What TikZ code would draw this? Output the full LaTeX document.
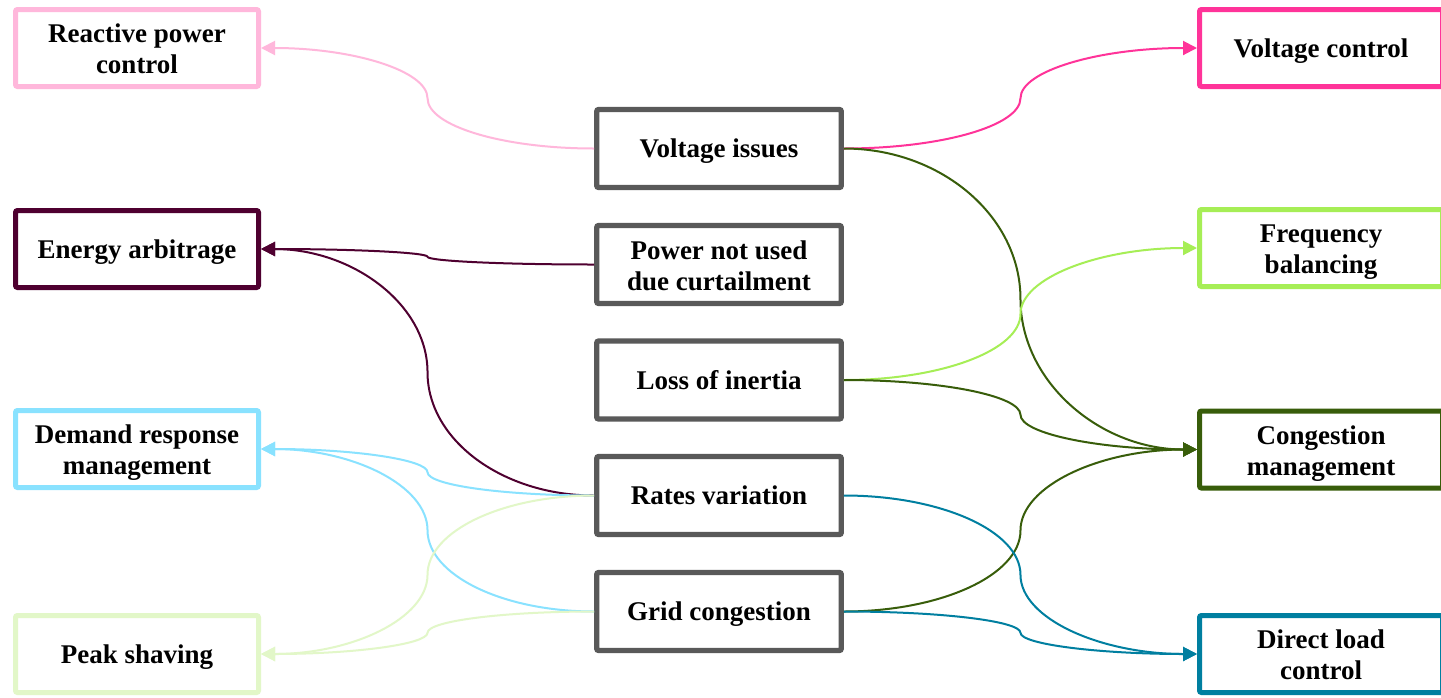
\documentclass[tikz,border=0pt]{standalone}
\usepackage{fontspec}
\setmainfont{Liberation Serif}
\usetikzlibrary{calc,arrows.meta}
\definecolor{cpinkl}{HTML}{FFB7DB}
\definecolor{cmaroon}{HTML}{4F0030}
\definecolor{cblue}{HTML}{89E2FF}
\definecolor{cgreenl}{HTML}{E2F7C8}
\definecolor{cpink}{HTML}{FF3399}
\definecolor{cgreen}{HTML}{A6EE56}
\definecolor{cdgreen}{HTML}{385D0A}
\definecolor{cteal}{HTML}{007FA0}
\definecolor{cgray}{HTML}{595959}
\tikzset{
  box/.style={draw, fill=white, line width=2.5pt, rounded corners=1pt,
    minimum width=121.5pt, minimum height=38.5pt, inner sep=0pt,
    text height=12pt, text depth=3pt,
    align=center, font=\bfseries\fontsize{13.5}{15.5}\selectfont},
  twoline/.style={text height=25.5pt, text depth=0pt},
  cbox/.style={box, draw=cgray, line width=2.65pt, minimum width=122.3pt, minimum height=39pt},
  conn/.style={line width=1pt, -{Triangle[length=7pt,width=7pt]}},
  sb/.style={to path={let \p1=(\tikztostart), \p2=(\tikztotarget), \p3=($(\p1)!0.5!(\p2)$) in
    .. controls ($(\p1)!0.55!(\x3,\y1)$) and ($(\p3)!0.55!(\x3,\y1)$) .. (\p3)
    .. controls ($(\p3)!0.55!(\x3,\y2)$) and ($(\p2)!0.55!(\x3,\y2)$) .. (\p2)}}
}
\begin{document}
\begin{tikzpicture}[x=0.5pt,y=-0.5pt]
\useasboundingbox[fill=white] (0,0) rectangle (1441,697);
% left boxes
\node[box, twoline, draw=cpinkl] (rpc) at (137,48) {Reactive power\\control};
\node[box, draw=cmaroon] (ea) at (137,249) {Energy arbitrage};
\node[box, twoline, draw=cblue] (dr) at (137,449) {Demand response\\management};
\node[box, draw=cgreenl] (ps) at (137,654) {Peak shaving};
% right boxes
\node[box, draw=cpink] (vc) at (1321,48) {Voltage control};
\node[box, twoline, draw=cgreen] (fb) at (1321,248) {Frequency\\balancing};
\node[box, twoline, draw=cdgreen] (cm) at (1321,449.5) {Congestion\\management};
\node[box, twoline, draw=cteal] (dlc) at (1321,654) {Direct load\\control};
% center boxes
\node[cbox] (vi) at (719,148.5) {Voltage issues};
\node[cbox, twoline] (pn) at (719,264.5) {Power not used\\due curtailment};
\node[cbox] (li) at (719,380) {Loss of inertia};
\node[cbox] (rv) at (719,495.5) {Rates variation};
\node[cbox] (gc) at (719,611.5) {Grid congestion};
% left connectors
\draw[conn, cpinkl] (vi.west) to[sb] (rpc.east);
\draw[conn, cmaroon] (pn.west) to[sb] (ea.east);
\draw[conn, cmaroon] (rv.west) to[sb] (ea.east);
\draw[conn, cblue] (rv.west) to[sb] (dr.east);
\draw[conn, cblue] (gc.west) to[sb] (dr.east);
\draw[conn, cgreenl] (rv.west) to[sb] (ps.east);
\draw[conn, cgreenl] (gc.west) to[sb] (ps.east);
% right connectors
\draw[conn, cpink] (vi.east) to[sb] (vc.west);
\draw[conn, cdgreen] (vi.east) to[sb] (cm.west);
\draw[conn, cgreen] (li.east) to[sb] (fb.west);
\draw[conn, cdgreen] (li.east) to[sb] (cm.west);
\draw[conn, cdgreen] (gc.east) to[sb] (cm.west);
\draw[conn, cteal] (rv.east) to[sb] (dlc.west);
\draw[conn, cteal] (gc.east) to[sb] (dlc.west);
\end{tikzpicture}
\end{document}
